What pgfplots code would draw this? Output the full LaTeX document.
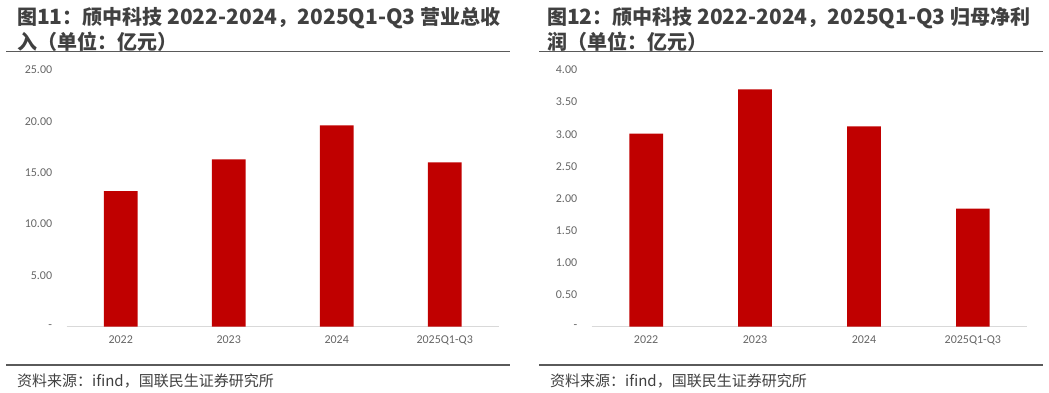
\documentclass[border=0pt]{standalone}
\usepackage{fontspec}
\setmainfont{Noto Sans CJK SC}
\newfontfamily\carlito{Carlito}
\newcommand\lt[1]{{\fontsize{21}{25}\selectfont #1}}
\usepackage{pgfplots}
\pgfplotsset{compat=1.18}
\definecolor{barred}{HTML}{C00000}
\definecolor{titlegray}{HTML}{404040}
\definecolor{tickgray}{HTML}{666666}
\definecolor{rulegray}{HTML}{5A5A5A}
\definecolor{basegray}{HTML}{D9D9D9}
\pgfplotsset{mybar/.style={
  scale only axis, height=256.7pt, anchor=south west,
  xmin=-0.5, xmax=3.5, ymin=0,
  xtick={0,1,2,3}, xticklabels={2022,2023,2024,2025Q1-Q3},
  axis x line*=bottom, axis y line*=left,
  x axis line style={draw=basegray, line width=0.8pt, -},
  y axis line style={draw=none},
  major tick length=0pt,
  tick label style={font=\carlito\fontsize{12}{14}\selectfont, text=tickgray},
  xticklabel style={yshift=-5pt},
  yticklabel style={xshift=-11pt},
  clip=false,
}}
\begin{document}
\begin{tikzpicture}
\path[use as bounding box] (0,0) rectangle (1049pt,393pt);
% left panel
\node[anchor=north west, inner sep=0, text=titlegray, font=\bfseries\fontsize{20}{25}\selectfont, align=left] at (17pt,386pt) {图\lt{11}：颀中科技 \lt{2022-2024}，\lt{2025Q1-Q3} 营业总收\\入（单位：亿元）};
\draw[rulegray, line width=1.5pt] (6pt,341.5pt) -- (510pt,341.5pt);
\draw[rulegray, line width=1.5pt] (6pt,28pt) -- (510pt,28pt);
\node[anchor=west, inner sep=0, text=titlegray, font=\fontsize{15}{18}\selectfont] at (17pt,12pt) {资料来源：ifind，国联民生证券研究所};
\begin{axis}[mybar, at={(66.7pt,66.3pt)}, width=432pt, ymax=25,
  ytick={0,5,10,15,20,25}, yticklabels={-,5.00,10.00,15.00,20.00,25.00}]
\addplot[ybar, bar width=33.7pt, fill=barred, draw=none] coordinates {(0,13.2) (1,16.3) (2,19.6) (3,16.0)};
\end{axis}
% right panel
\node[anchor=north west, inner sep=0, text=titlegray, font=\bfseries\fontsize{20}{25}\selectfont, align=left] at (547pt,386pt) {图\lt{12}：颀中科技 \lt{2022-2024}，\lt{2025Q1-Q3} 归母净利\\润（单位：亿元）};
\draw[rulegray, line width=1.5pt] (539pt,341.5pt) -- (1043pt,341.5pt);
\draw[rulegray, line width=1.5pt] (539pt,28pt) -- (1043pt,28pt);
\node[anchor=west, inner sep=0, text=titlegray, font=\fontsize{15}{18}\selectfont] at (550pt,12pt) {资料来源：ifind，国联民生证券研究所};
\begin{axis}[mybar, at={(591.7pt,66.3pt)}, width=435.6pt, ymax=4,
  ytick={0,0.5,1,1.5,2,2.5,3,3.5,4}, yticklabels={-,0.50,1.00,1.50,2.00,2.50,3.00,3.50,4.00}]
\addplot[ybar, bar width=33.7pt, fill=barred, draw=none] coordinates {(0,3.01) (1,3.70) (2,3.12) (3,1.84)};
\end{axis}
\end{tikzpicture}
\end{document}
